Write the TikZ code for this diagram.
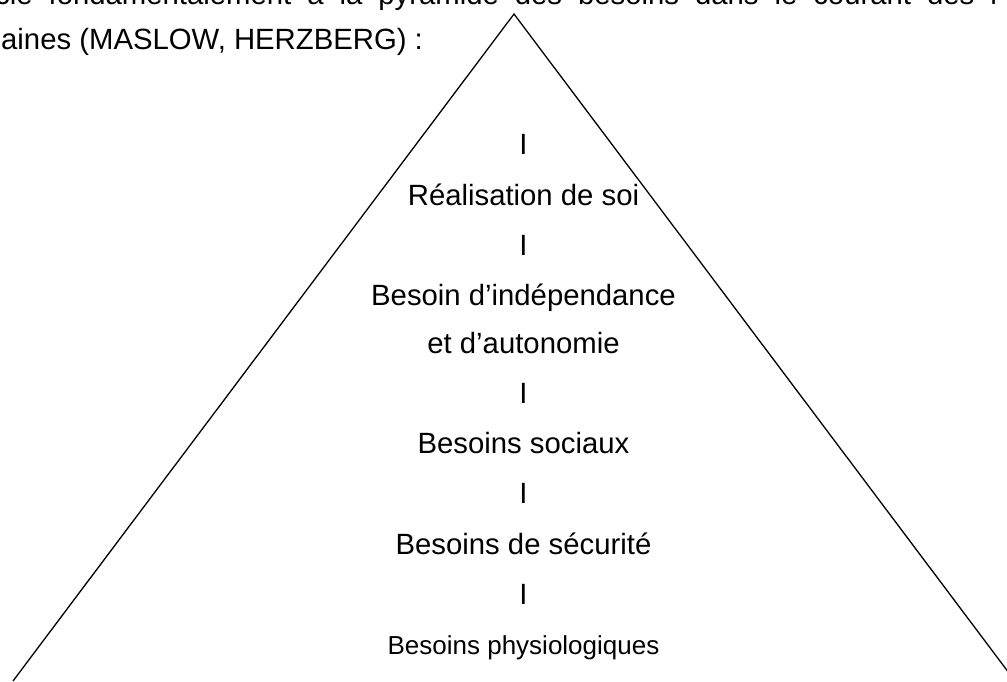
\documentclass[tikz,border=0pt]{standalone}
\usepackage{fontspec}
\setmainfont{Liberation Sans}
\begin{document}
\begin{tikzpicture}[x=1pt,y=-1pt,
  txt/.style={font=\fontsize{29.3}{35}\selectfont, inner sep=0pt, anchor=base},
  smalltxt/.style={font=\fontsize{26}{31}\selectfont, inner sep=0pt, anchor=base},
  leg/.style={line width=1.3pt, line join=miter}]
\useasboundingbox (0,0) rectangle (1007,681);
\clip (0,0) rectangle (1007,681);
% running text, cut by the frame
\node[txt, anchor=base west] (l1) at (-5,4.5)
  {\hbox to 1005pt{cle\hfill fondamentalement\hfill à\hfill la\hfill pyramide\hfill des\hfill besoins\hfill dans\hfill le\hfill courant\hfill des\hfill r}};
\node[txt, anchor=base west] (l2) at (1,49) {aines (MASLOW, HERZBERG) :};
% pyramid
\coordinate (apex) at (514,14);
\coordinate (bl) at (13,681);
\coordinate (br) at (1015,681);
\draw[leg] (bl) -- (apex) -- (br);
% levels
\node[txt] (s1) at (523.5,154) {I};
\node[txt] (t1) at (523.5,205) {Réalisation de soi};
\node[txt] (s2) at (523.5,255) {I};
\node[txt] (t2) at (523.5,305) {Besoin d’indépendance};
\node[txt] (t2b) at (523.5,353) {et d’autonomie};
\node[txt] (s3) at (523.5,403) {I};
\node[txt] (t3) at (523.5,453) {Besoins sociaux};
\node[txt] (s4) at (523.5,503) {I};
\node[txt] (t4) at (523.5,554) {Besoins de sécurité};
\node[txt] (s5) at (523.5,604) {I};
\node[smalltxt] (t5) at (523.5,654) {Besoins physiologiques};
\end{tikzpicture}
\end{document}
